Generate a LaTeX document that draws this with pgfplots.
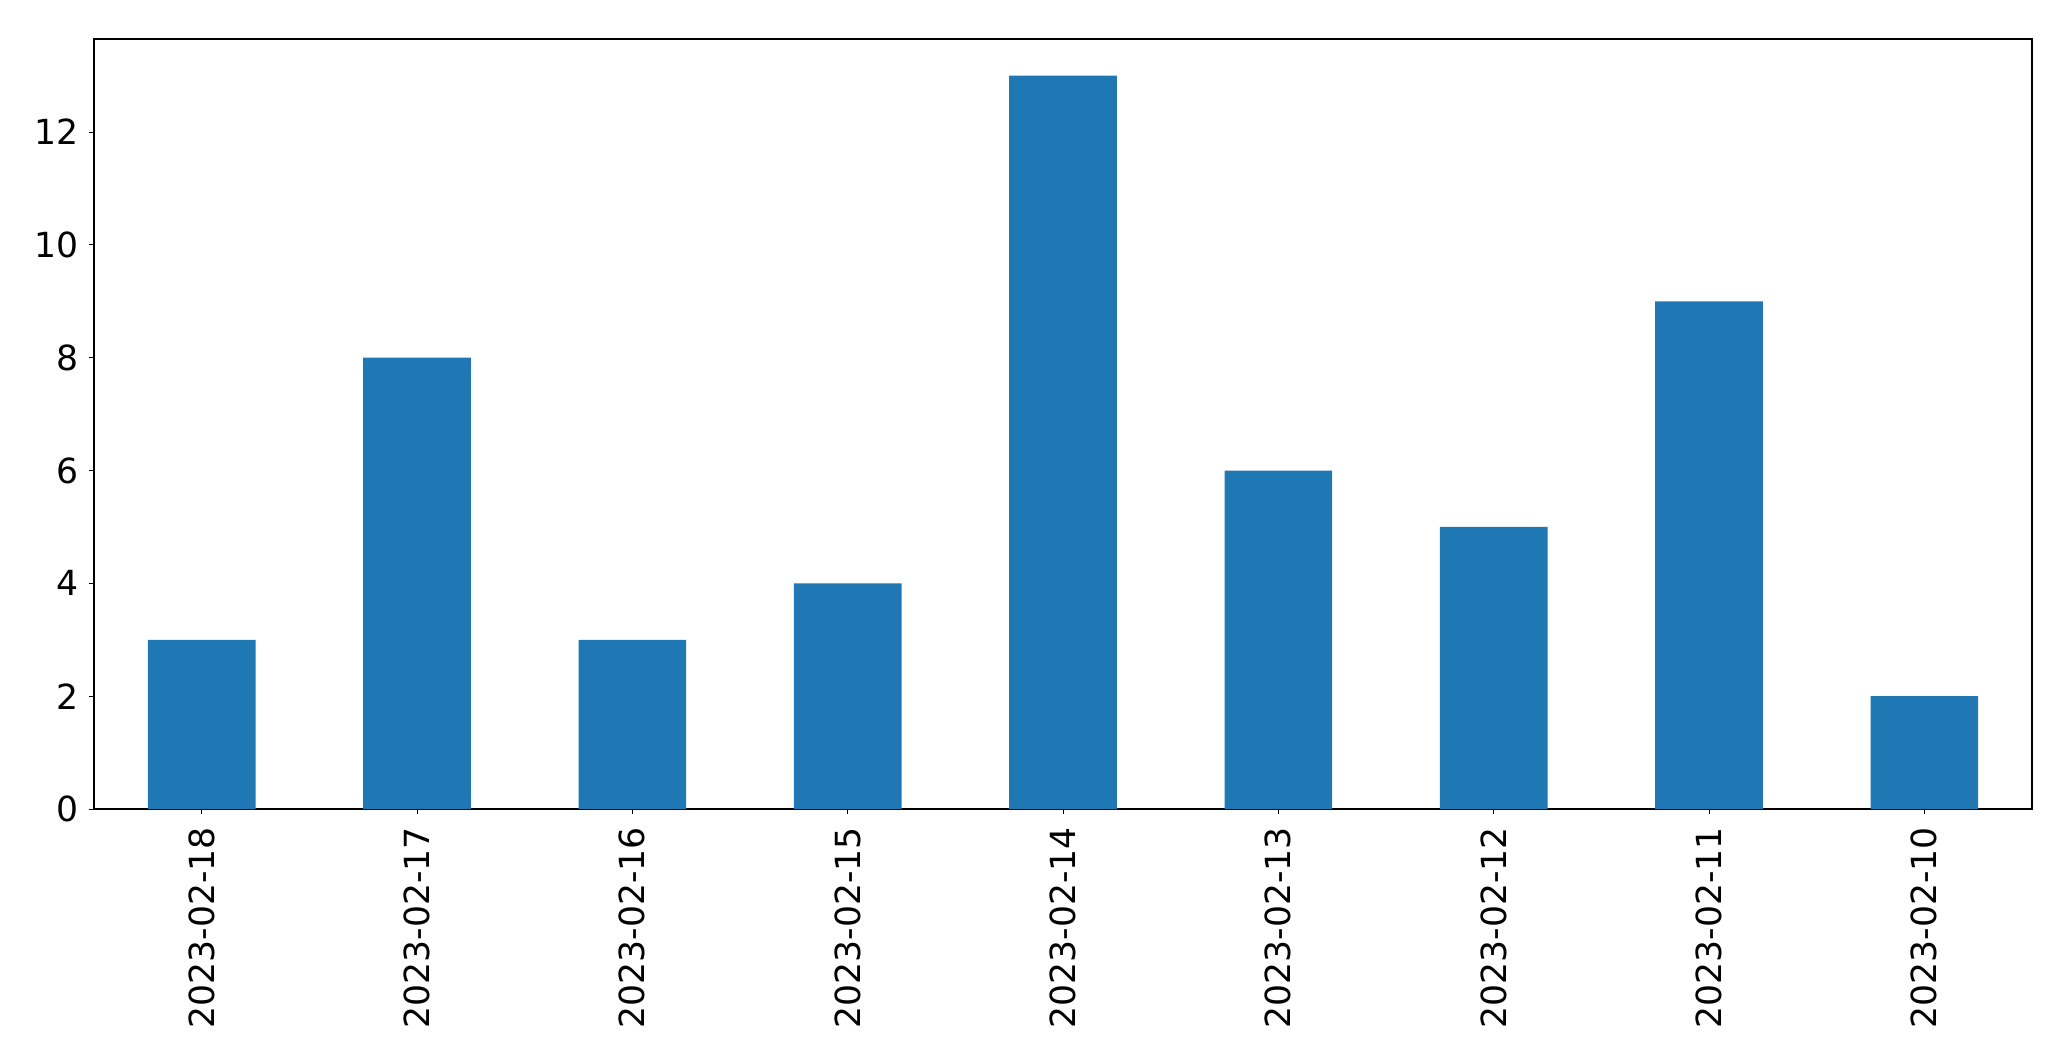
\documentclass[border=0pt]{standalone}
\usepackage{pgfplots}
\pgfplotsset{compat=1.18}
\usepackage{fontspec}
\setmainfont{DejaVu Sans}
\definecolor{mplblue}{HTML}{1F77B4}
\begin{document}
\begin{tikzpicture}
\useasboundingbox (-47pt,-126pt) rectangle (988.5pt,404.5pt);
\begin{axis}[
  at={(0,0)}, anchor=south west,
  width=969pt, height=385pt, scale only axis,
  xmin=-0.5, xmax=8.5, ymin=0, ymax=13.65,
  xtick=data,
  xticklabels={2023-02-18,2023-02-17,2023-02-16,2023-02-15,2023-02-14,2023-02-13,2023-02-12,2023-02-11,2023-02-10},
  xticklabel style={rotate=90, anchor=east},
  ytick={0,2,4,6,8,10,12},
  tick align=outside, tick pos=left,
  major tick length=2.5pt,
  every tick/.style={black, line width=0.5pt},
  axis line style={line width=0.6pt},
  tick label style={font=\fontsize{17.3}{21}\selectfont},
  /pgf/number format/assume math mode=true,
  xticklabel shift=3pt, yticklabel shift=1.5pt,
]
\addplot[ybar, bar width=0.5, fill=mplblue, draw=none] coordinates {
(0,3) (1,8) (2,3) (3,4) (4,13) (5,6) (6,5) (7,9) (8,2)};
\end{axis}
\end{tikzpicture}
\end{document}
